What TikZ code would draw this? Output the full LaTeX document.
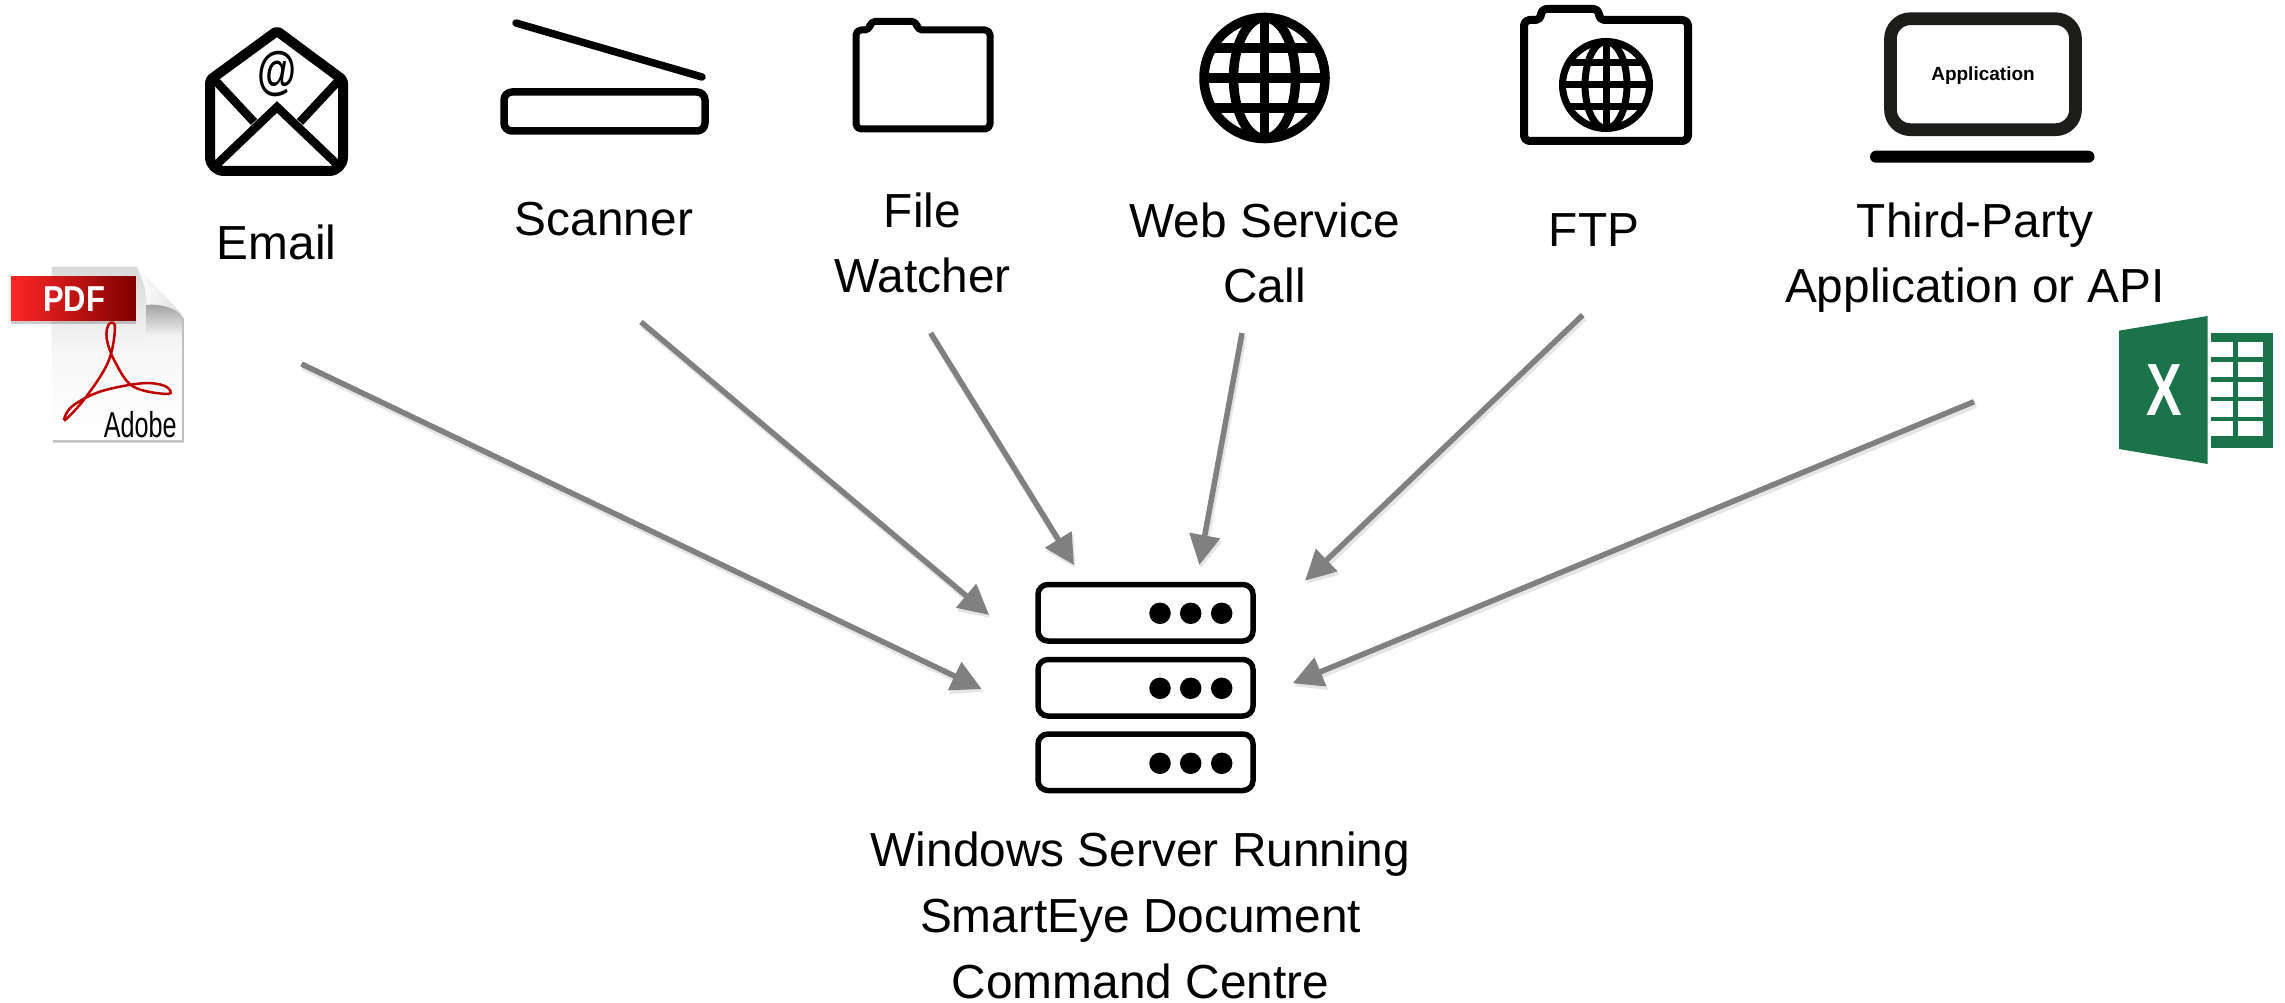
\documentclass[tikz,border=0pt]{standalone}
\usepackage{fontspec}
\usepackage{graphicx}
\setmainfont{Liberation Sans}
\usetikzlibrary{arrows.meta}
\definecolor{arrowgrey}{HTML}{808080}
\definecolor{xlgreen}{HTML}{1A7349}
\definecolor{laptopink}{HTML}{1D1D1B}
\tikzset{
  lbl/.style={font=\fontsize{47.8}{65.7}\selectfont,align=center,anchor=base,inner sep=0pt,text=black},
  icon/.style={draw=black,line join=round,fill=none},
  conn/.style={draw=arrowgrey,line width=5.5pt,-{Triangle[length=30pt,width=30pt]}},
  connshadow/.style={draw=black,opacity=.10,line width=6.5pt,-{Triangle[length=30pt,width=31pt]}},
  dotn/.style={circle,fill=black,inner sep=0pt,minimum size=21.5pt},
  rack/.style={draw=black,line width=5.5pt,rounded corners=10pt},
}
\newcommand{\globe}[6]{% x y r lw rx lat
  \begin{scope}[shift={(#1,#2)}]
    \draw[black,line width=#4pt] (0,0) circle[radius=#3];
    \draw[black,line width=#4pt] (0,0) ellipse[x radius=#5,y radius=#3];
    \draw[black,line width=#4pt] (0,-#3) -- (0,#3);
    \clip (0,0) circle[radius=#3];
    \draw[black,line width=#4pt] (-#3,0) -- (#3,0) (-#3,#6) -- (#3,#6) (-#3,-#6) -- (#3,-#6);
  \end{scope}}
\newcommand{\arrowlink}[2]{%
  \draw[connshadow,transform canvas={shift={(1.5pt,-3pt)}}] (#1) -- (#2);
  \draw[conn] (#1) -- (#2);}
\begin{document}
\begin{tikzpicture}[x=1pt,y=-1pt]
\useasboundingbox (0,0) rectangle (2285,1003);

% Email
\draw[icon,line width=10pt,rounded corners=3pt] (277,31) -- (343,80) [rounded corners=14pt] -- (343,171) -- (210,171) [rounded corners=3pt] -- (210,80) -- cycle;
\draw[icon,line width=8.5pt] (213,78) -- (254,122) (341,78) -- (300,122);
\draw[icon,line width=8.5pt,line join=miter] (213,168) -- (277,107) -- (341,168);
\node (at) at (277,74) [inner sep=0pt] {\scalebox{.8}[1.05]{\fontsize{50}{50}\selectfont\bfseries @}};
\node[lbl] (email) at (276.5,259.3) {Email};

% Scanner
\draw[icon,line width=7.5pt,line cap=round] (516,23) -- (702,77);
\draw[icon,line width=7.5pt,rounded corners=8pt] (504,92) rectangle (705,131);
\node[lbl] (scanner) at (604,235) {Scanner};

% File watcher folder
\draw[icon,line width=7pt,rounded corners=5pt] (856,129) -- (856,30) -- (870,30) -- (870,21.5) -- (917,21.5) -- (917,30) -- (990,30) -- (990,129) -- cycle;
\node[lbl] (file) at (922.4,292.7) {File\\Watcher};

% Web service globe
\globe{1264.5}{78}{60.5}{9.5}{31}{30}
\node[lbl] (web) at (1264.6,302.7) {Web Service\\Call};

% FTP folder
\draw[icon,line width=8pt,rounded corners=6pt] (1524,141) -- (1524,20) -- (1541,20) -- (1541,9) -- (1599,9) -- (1599,20) -- (1688,20) -- (1688,141) -- cycle;
\globe{1606}{85}{43.5}{7}{21}{22}
\node[lbl] (ftp) at (1594,246) {FTP};

% Laptop
\draw[draw=laptopink,line width=12.7pt,rounded corners=20pt] (1890.5,18.7) rectangle (2075.5,129.7);
\fill[black,rounded corners=6pt] (1870,150.7) rectangle (2094.5,162.7);
\node (appname) at (1983,76) [inner sep=0pt] {\fontsize{19}{19}\selectfont\bfseries Application};
\node[lbl] (third) at (1975,302.7) {Third-Party\\Application or API};

% PDF icon
\begin{scope}[shift={(0,250)},x=.33333pt,y=-.33333pt]
  \fill[black,opacity=.25] (158,60) -- (410,60) -- (552,205) -- (552,578) -- (158,578) -- cycle;
  \shade[top color=gray!30,bottom color=white,middle color=gray!6] (155,50) -- (410,50) -- (548,195) -- (548,570) -- (155,570) -- cycle;
  \shade[left color=white,right color=gray!25] (410,50) -- (548,195) .. controls (500,165) and (460,160) .. (440,165) .. controls (440,120) and (430,90) .. (410,50) -- cycle;
  \shade[top color=gray!75,bottom color=gray!8] (440,165) .. controls (480,160) and (530,175) .. (548,200) -- (548,260) -- (440,260) -- cycle;
  \fill[black,opacity=.2] (33,210) rectangle (408,222);
  \shade[left color=red!85!white,right color=red!50!black] (33,80) rectangle (408,210);
  \node (pdf) at (222,148) [inner sep=0pt,text=white] {\scalebox{.86}[1]{\fontsize{36}{36}\selectfont\bfseries PDF}};
  \draw[red!75!black,line width=2.5pt] plot[smooth cycle,tension=.6] coordinates {(195,510) (255,445) (325,335) (345,232) (327,222) (320,265) (345,335) (400,410) (505,432) (495,408) (425,400) (300,425) (215,470)};
  \node (adobe) at (421,523) [inner sep=0pt,text=black] {\scalebox{.7}[1]{\fontsize{36}{36}\selectfont Adobe}};
\end{scope}

% Excel icon
\begin{scope}[shift={(2100,300)},x=.33333pt,y=.33333pt,yscale=-1]
  \fill[xlgreen] (333,100) rectangle (520,443);
  \foreach \ya/\yb in {127/172,187/232,246/291,304/350,363/408}{
    \fill[white] (333,\ya) rectangle (400,\yb);
    \fill[white] (415,\ya) rectangle (490,\yb);
  }
  \fill[xlgreen] (57,92) -- (323,48) -- (323,492) -- (57,447) -- cycle;
  \node (xl) at (193,270) [inner sep=0pt,text=white] {\scalebox{.72}[1]{\fontsize{74}{74}\selectfont\bfseries X}};
\end{scope}

% Server
\draw[rack] (1038,584.5) rectangle (1253,641);
\draw[rack] (1038,659.5) rectangle (1253,716);
\draw[rack] (1038,734) rectangle (1253,790.5);
\foreach \row/\yy in {a/613.3,b/688.3,c/763.3}{
  \node[dotn] (d1\row) at (1160,\yy) {};
  \node[dotn] (d2\row) at (1190.7,\yy) {};
  \node[dotn] (d3\row) at (1221.7,\yy) {};
}
\node[lbl] (server) at (1140.5,998) {Windows Server Running\\SmartEye Document\\Command Centre};

% Connectors
\coordinate (s1) at (301.5,364);  \coordinate (t1) at (981.7,689);
\coordinate (s2) at (641,322);    \coordinate (t2) at (989,615);
\coordinate (s3) at (930.6,333);  \coordinate (t3) at (1074,565);
\coordinate (s4) at (1242,333);   \coordinate (t4) at (1199.3,565);
\coordinate (s5) at (1582.7,315); \coordinate (t5) at (1305,580.7);
\coordinate (s6) at (1974,401.7); \coordinate (t6) at (1292.7,683.3);
\foreach \i in {1,...,6}{\arrowlink{s\i}{t\i}}
\end{tikzpicture}
\end{document}
